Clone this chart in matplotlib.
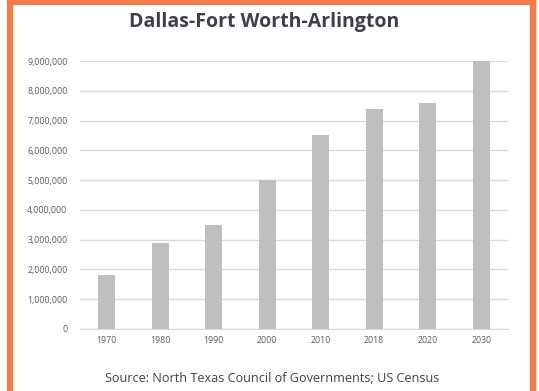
import numpy as np
import matplotlib
matplotlib.use("Agg")
import matplotlib.pyplot as plt
from matplotlib.patches import Rectangle
from matplotlib.ticker import FuncFormatter

# Population, Dallas-Fort Worth-Arlington metro
years = ["1970", "1980", "1990", "2000", "2010", "2018", "2020", "2030"]
population = [1800000, 2900000, 3500000, 5000000, 6500000, 7400000, 7600000, 9000000]

W, H = 539, 391
fig = plt.figure(figsize=(W / 100, H / 100), dpi=100)
fig.patch.set_facecolor("white")

# orange frame (open at the bottom)
orange = "#F47C48"
fig.patches.append(Rectangle((7 / W, 0), 5 / W, 1, transform=fig.transFigure,
                             color=orange, zorder=0))
fig.patches.append(Rectangle((530 / W, 0), 5 / W, 1, transform=fig.transFigure,
                             color=orange, zorder=0))
fig.patches.append(Rectangle((7 / W, 1 - 4 / H), 528 / W, 4 / H, transform=fig.transFigure,
                             color=orange, zorder=0))

ax = fig.add_axes([80 / W, 1 - 329 / H, 428 / W, 268 / H])
x = np.arange(len(years))
ax.bar(x, population, width=0.31, color="#BFBFBF", zorder=3)

ax.set_xlim(-0.5, len(years) - 0.5)
ax.set_ylim(0, 9000000)
ax.set_yticks(np.arange(0, 9000001, 1000000))
ax.yaxis.set_major_formatter(FuncFormatter(lambda v, p: f"{int(v):,}"))
ax.set_xticks(x)
ax.set_xticklabels(years)
for lbl in ax.get_xticklabels() + ax.get_yticklabels():
    lbl.set_family("Open Sans")
ax.grid(axis="y", color="#D9D9D9", linewidth=1.0, zorder=0)
ax.tick_params(axis="both", length=0, labelsize=6.3, labelcolor="#595959")
ax.tick_params(axis="x", pad=5)
ax.tick_params(axis="y", pad=9)
for s in ["top", "right", "left"]:
    ax.spines[s].set_visible(False)
ax.spines["bottom"].set_color("#D9D9D9")

fig.text(264 / W, 1 - 22 / H, "Dallas-Fort Worth-Arlington", ha="center", va="center",
         fontsize=14, fontweight="bold", color="#3B4049", family="Open Sans")
fig.text(272 / W, 1 - 378 / H, "Source: North Texas Council of Governments; US Census",
         ha="center", va="center", fontsize=9.1, color="#404040", family="Open Sans")

fig.savefig("out.png", dpi=100)
